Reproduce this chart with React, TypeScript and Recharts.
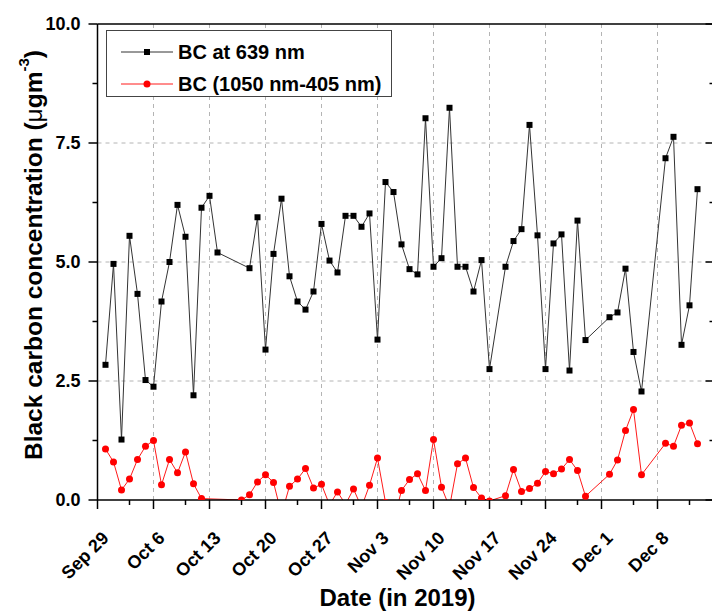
import { Legend, Line, LineChart, ReferenceLine, XAxis, YAxis } from "recharts";

const FONT = '"Liberation Sans", Arial, sans-serif';

// x positions are days counted from Sep 29, 2019
const tickLabels = ["Sep 29", "Oct 6", "Oct 13", "Oct 20", "Oct 27", "Nov 3", "Nov 10", "Nov 17", "Nov 24", "Dec 1", "Dec 8"];
const majorDays = tickLabels.map((_, i) => i * 7);
const minorDays = majorDays.map((d) => d + 4);
const topMinorDays = majorDays.map((d) => d + 3.5);
const yMajor = [0, 2.5, 5, 7.5, 10];
const yMinor = [1.25, 3.75, 6.25, 8.75];

const bc639Days = [
  1, 2, 3, 4, 5, 6, 7, 8, 9, 10, 11, 12, 13, 14, 15,
  19, 20, 21, 22, 23, 24, 25, 26, 27, 28, 29, 30, 31, 32, 33, 34, 35, 36, 37, 38, 39, 40, 41, 42, 43, 44, 45, 46, 47, 48, 49,
  51, 52, 53, 54, 55, 56, 57, 58, 59, 60, 61,
  64, 65, 66, 67, 68,
  71, 72, 73, 74, 75,
];
const bc639 = [
  2.84, 4.96, 1.27, 5.55, 4.33, 2.52, 2.38, 4.17, 5.0, 6.2, 5.53, 2.2, 6.14, 6.39, 5.2,
  4.87, 5.94, 3.16, 5.17, 6.33, 4.7, 4.17, 4.0, 4.38, 5.8, 5.03, 4.78, 5.97, 5.97, 5.74, 6.02, 3.37, 6.68, 6.47, 5.37, 4.85, 4.74, 8.02, 4.9, 5.08, 8.24, 4.9, 4.9, 4.38, 5.04, 2.75,
  4.9, 5.44, 5.69, 7.88, 5.56, 2.75, 5.39, 5.58, 2.72, 5.87, 3.36,
  3.84, 3.94, 4.86, 3.11, 2.28,
  7.18, 7.63, 3.26, 4.09, 6.53,
];

const bcDiffDays = [
  1, 2, 3, 4, 5, 6, 7, 8, 9, 10, 11, 12, 13,
  18, 19, 20, 21, 22, 23, 24, 25, 26, 27, 28, 29, 30, 31, 32, 33, 34, 35, 36, 37, 38, 39, 40, 41, 42, 43, 44, 45, 46, 47, 48, 49,
  51, 52, 53, 54, 55, 56, 57, 58, 59, 60, 61,
  64, 65, 66, 67, 68,
  71, 72, 73, 74, 75,
];
const bcDiff = [
  1.07, 0.8, 0.21, 0.44, 0.85, 1.13, 1.25, 0.32, 0.85, 0.57, 1.01, 0.34, 0.03,
  0.0, 0.11, 0.38, 0.53, 0.37, -0.3, 0.29, 0.44, 0.66, 0.25, 0.33, -0.1, 0.17, -0.09, 0.23, -0.15, 0.31, 0.88, -0.05, -0.45, 0.2, 0.43, 0.55, 0.2, 1.27, 0.27, -0.15, 0.76, 0.88, 0.26, 0.04, -0.02,
  0.09, 0.64, 0.18, 0.24, 0.35, 0.6, 0.55, 0.65, 0.85, 0.62, 0.08,
  0.54, 0.84, 1.46, 1.9, 0.53,
  1.19, 1.13, 1.57, 1.62, 1.18,
];

const series = [
  { name: "BC at 639 nm", line: "#333", fill: "#000", shape: "square" },
  { name: "BC (1050 nm-405 nm)", line: "#ff1a1a", fill: "#ff0000", shape: "circle" },
];

const bc639Data = bc639Days.map((day, i) => ({ day, v: bc639[i] }));
const bcDiffData = bcDiffDays.map((day, i) => ({ day, v: bcDiff[i] }));

const xTicks = [...majorDays, ...minorDays].sort((a, b) => a - b);
const topTicks = [...majorDays, ...topMinorDays].sort((a, b) => a - b);
const yTicks = [...yMajor, ...yMinor].sort((a, b) => a - b);

function BottomTick({ x, y, payload }: any) {
  const major = payload.value % 7 === 0;
  const lx = x + 8;
  const ly = y + 35;
  return (
    <g>
      <line x1={x} y1={y} x2={x} y2={y + (major ? 9 : 5)} stroke="#000" strokeWidth={1.5} />
      {major && (
        <text
          x={lx}
          y={ly}
          textAnchor="end"
          dominantBaseline="central"
          transform={`rotate(-45 ${lx} ${ly})`}
          fontFamily={FONT}
          fontWeight={700}
          fontSize={18}
          fill="#000"
        >
          {tickLabels[payload.value / 7]}
        </text>
      )}
    </g>
  );
}

function TopTick({ x, y, payload }: any) {
  const major = payload.value % 7 === 0;
  return <line x1={x} y1={y} x2={x} y2={y + (major ? 6 : 4)} stroke="#000" strokeWidth={1.5} />;
}

function LeftTick({ x, y, payload }: any) {
  const major = yMajor.includes(payload.value);
  return (
    <g>
      <line x1={x} y1={y} x2={x - (major ? 9 : 5)} y2={y} stroke="#000" strokeWidth={1.5} />
      {major && (
        <text
          x={x - 17}
          y={y}
          textAnchor="end"
          dominantBaseline="central"
          fontFamily={FONT}
          fontWeight={700}
          fontSize={18}
          fill="#000"
        >
          {payload.value.toFixed(1)}
        </text>
      )}
    </g>
  );
}

function RightTick({ x, y, payload }: any) {
  const major = yMajor.includes(payload.value);
  return <line x1={x} y1={y} x2={x - (major ? 8 : 4)} y2={y} stroke="#000" strokeWidth={1.5} />;
}

function YTitle({ viewBox }: any) {
  const cx = viewBox.x + 32.5;
  const cy = viewBox.y + viewBox.height / 2 - 7;
  return (
    <text
      x={cx}
      y={cy}
      textAnchor="middle"
      dominantBaseline="central"
      transform={`rotate(-90 ${cx} ${cy})`}
      fontFamily={FONT}
      fontWeight={700}
      fontSize={24.5}
      fill="#000"
    >
      Black carbon concentration (<tspan fontWeight={400}>μ</tspan>gm
      <tspan dy={-10} fontSize={15}>-3</tspan>
      <tspan dy={10}>)</tspan>
    </text>
  );
}

function XTitle({ viewBox }: any) {
  return (
    <text
      x={viewBox.x + 300}
      y={viewBox.y + 106}
      textAnchor="middle"
      fontFamily={FONT}
      fontWeight={700}
      fontSize={24}
      fill="#000"
    >
      Date (in 2019)
    </text>
  );
}

function LegendBox() {
  return (
    <div
      style={{
        width: 286,
        height: 67,
        boxSizing: "border-box",
        border: "1px solid #444",
        background: "#fff",
        padding: "5px 0 0 14px",
      }}
    >
      {series.map((s) => (
        <div key={s.name} style={{ display: "flex", alignItems: "center", height: 32 }}>
          <svg width={54} height={12} style={{ display: "block" }}>
            <line x1={0} x2={52} y1={6} y2={6} stroke={s.line} strokeWidth={1} />
            {s.shape === "square" ? (
              <rect x={23} y={3} width={6} height={6} fill={s.fill} />
            ) : (
              <circle cx={26} cy={6} r={3.5} fill={s.fill} />
            )}
          </svg>
          <span
            style={{
              marginLeft: 3,
              fontFamily: FONT,
              fontWeight: 700,
              fontSize: 20,
              color: "#000",
              lineHeight: 1,
              whiteSpace: "nowrap",
            }}
          >
            {s.name}
          </span>
        </div>
      ))}
    </div>
  );
}

const squareDot = (p: any) => (
  <rect key={`sq-${p.index}`} x={p.cx - 3} y={p.cy - 3} width={6} height={6} fill="#000" />
);

export default function App() {
  return (
    <div
      style={{
        position: "absolute",
        left: 0,
        top: 0,
        width: 712,
        height: 612,
        overflow: "hidden",
        background: "#fff",
        fontFamily: FONT,
      }}
    >
      <LineChart width={714} height={612} margin={{ top: 24, right: 0.5, bottom: 0, left: 0.5 }}>
        <XAxis
          dataKey="day"
          type="number"
          domain={[0, 77]}
          allowDataOverflow
          ticks={xTicks}
          interval={0}
          tick={BottomTick}
          tickLine={false}
          tickSize={0}
          tickMargin={0}
          height={112}
          axisLine={{ stroke: "#000", strokeWidth: 1.5 }}
          label={{ content: XTitle }}
        />
        <XAxis
          xAxisId="top"
          orientation="top"
          mirror
          type="number"
          domain={[0, 77]}
          allowDataOverflow
          ticks={topTicks}
          interval={0}
          tick={TopTick}
          tickLine={false}
          tickSize={0}
          tickMargin={0}
          axisLine={{ stroke: "#000", strokeWidth: 1.5 }}
        />
        <YAxis
          type="number"
          domain={[0, 10]}
          allowDataOverflow
          ticks={yTicks}
          interval={0}
          tick={LeftTick}
          tickLine={false}
          tickSize={0}
          tickMargin={0}
          width={97}
          axisLine={{ stroke: "#000", strokeWidth: 1.5 }}
          label={{ content: YTitle }}
        />
        <YAxis
          yAxisId="right"
          orientation="right"
          mirror
          type="number"
          domain={[0, 10]}
          allowDataOverflow
          ticks={yTicks}
          interval={0}
          tick={RightTick}
          tickLine={false}
          tickSize={0}
          tickMargin={0}
          axisLine={{ stroke: "#000", strokeWidth: 1.5 }}
        />
        {majorDays.slice(1).map((d) => (
          <ReferenceLine key={`vx-${d}`} x={d} stroke="#b4b4b4" strokeDasharray="4 4" />
        ))}
        {yMajor.slice(1, -1).map((v) => (
          <ReferenceLine key={`hy-${v}`} y={v} stroke="#b4b4b4" strokeDasharray="4 4" />
        ))}
        <Line
          data={bc639Data}
          dataKey="v"
          name={series[0].name}
          stroke={series[0].line}
          strokeWidth={1}
          dot={squareDot}
          isAnimationActive={false}
        />
        <Line
          data={bcDiffData}
          dataKey="v"
          name={series[1].name}
          stroke={series[1].line}
          strokeWidth={1}
          dot={{ r: 3.5, fill: series[1].fill, stroke: "none" }}
          isAnimationActive={false}
        />
        <Legend
          content={LegendBox}
          layout="vertical"
          verticalAlign="middle"
          align="center"
          wrapperStyle={{ left: 106, top: 30, width: 286, height: 67 }}
        />
      </LineChart>
    </div>
  );
}
